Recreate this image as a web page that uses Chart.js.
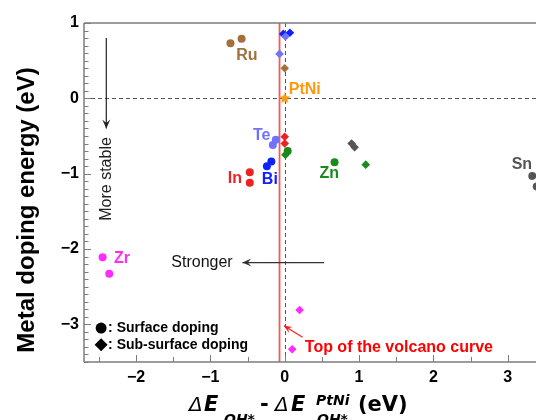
<!DOCTYPE html>
<html>
<head>
<meta charset="utf-8">
<script src="https://cdn.jsdelivr.net/npm/chart.js@4.4.1/dist/chart.umd.min.js"></script>
<style>
  html, body { margin: 0; padding: 0; background: #fff; }
  #wrap { width: 536px; height: 420px; overflow: hidden; }
</style>
</head>
<body>
<div id="wrap"><canvas id="chart" width="536" height="420"></canvas></div>
<script>
// values: [ΔE_OH* - ΔE_OH*(PtNi), metal doping energy]
const ruSurface    = [[-0.73, 0.73], [-0.58, 0.79]];
const ruSubsurface = [[0.00, 0.40]];
const teSurface    = [[-0.12, -0.55], [-0.16, -0.62]];
const teSubsurface = [[0.01, 0.82], [-0.07, 0.59]];
const biSurface    = [[-0.18, -0.84], [-0.24, -0.90]];
const biSubsurface = [[-0.02, 0.855], [0.07, 0.87]];
const inSurface    = [[-0.47, -0.98], [-0.47, -1.12]];
const inSubsurface = [[0.00, -0.51], [0.00, -0.60]];
const znSurface    = [[0.67, -0.85], [0.04, -0.70]];
const znSubsurface = [[1.09, -0.88], [0.01, -0.75]];
const snSurface    = [[3.33, -1.03], [3.39, -1.17]];
const snSubsurface = [[0.90, -0.60], [0.94, -0.65]];
const zrSurface    = [[-2.45, -2.11], [-2.36, -2.33]];
const zrSubsurface = [[0.20, -2.81], [0.10, -3.33]];
const ptNi         = [[0, 0]];

const elements = ['Ru', 'Te', 'Bi', 'In', 'Zn', 'Sn', 'Zr'];
const surfaceSets    = [ruSurface, teSurface, biSurface, inSurface, znSurface, snSurface, zrSurface];
const subsurfaceSets = [ruSubsurface, teSubsurface, biSubsurface, inSubsurface, znSubsurface, snSubsurface, zrSubsurface];

const xTicks = [-2, -1, 0, 1, 2, 3];
const yTicks = [-3, -2, -1, 0, 1];
const volcanoTop = -0.07;

const colors = { Ru: '#a3703c', Te: '#7272ff', Bi: '#0f22ff', In: '#ee2222', Zn: '#1a8a1a', Sn: '#555555', Zr: '#ff2bff', PtNi: '#ff9a10' };
const FONT = '"Liberation Sans", Arial, Helvetica, sans-serif';
const TFONT = '"DejaVu Sans", sans-serif';

// text labels beside each group (data units, centre of text)
const tags = [
    { t: 'Ru', x: -0.51, y: 0.57 },
    { t: 'PtNi', x: 0.27, y: 0.12 },
    { t: 'Te', x: -0.31, y: -0.50 },
    { t: 'In', x: -0.67, y: -1.07 },
    { t: 'Bi', x: -0.20, y: -1.08 },
    { t: 'Zn', x: 0.60, y: -1.00 },
    { t: 'Sn', x: 3.19, y: -0.88 },
    { t: 'Zr', x: -2.19, y: -2.13 }
];

function toPts(arr) { return arr.map(p => ({ x: p[0], y: p[1] })); }
function fmt(v) { return v < 0 ? '\u2212' + Math.abs(v) : String(v); }

function starImage(r, color) {
    const c = document.createElement('canvas');
    const s = Math.ceil(r * 2 + 2);
    c.width = c.height = s;
    const g = c.getContext('2d');
    g.fillStyle = color;
    g.beginPath();
    for (let i = 0; i < 10; i++) {
        const rad = i % 2 ? r * 0.45 : r;
        const ang = -Math.PI / 2 + i * Math.PI / 5;
        g.lineTo(s / 2 + rad * Math.cos(ang), s / 2 + rad * Math.sin(ang));
    }
    g.closePath();
    g.fill();
    return c;
}

const datasets = [];
elements.forEach((el, i) => {
    datasets.push({ label: el + ' sub', data: toPts(subsurfaceSets[i]), pointStyle: 'rectRot', pointRadius: 4.3,
        backgroundColor: colors[el], borderWidth: 0 });
    datasets.push({ label: el + ' surf', data: toPts(surfaceSets[i]), pointStyle: 'circle', pointRadius: 4,
        backgroundColor: colors[el], borderWidth: 0 });
});
datasets.push({ label: 'PtNi', data: toPts(ptNi), pointStyle: starImage(6, colors.PtNi), pointRadius: 6 });

function line(ctx, x1, y1, x2, y2) {
    ctx.beginPath(); ctx.moveTo(x1, y1); ctx.lineTo(x2, y2); ctx.stroke();
}
function arrow(ctx, x1, y1, x2, y2, len, wid) {
    line(ctx, x1, y1, x2, y2);
    const a = Math.atan2(y2 - y1, x2 - x1);
    ctx.save();
    ctx.translate(x2, y2); ctx.rotate(a);
    ctx.beginPath();
    ctx.moveTo(0, 0); ctx.lineTo(-len, -wid); ctx.lineTo(-len * 0.6, 0); ctx.lineTo(-len, wid);
    ctx.closePath(); ctx.fill();
    ctx.restore();
}

const decor = {
    id: 'decor',
    beforeDatasetsDraw(chart) {
        const { ctx, chartArea: a, scales: { x, y } } = chart;
        ctx.save();
        ctx.strokeStyle = '#555'; ctx.lineWidth = 1; ctx.setLineDash([4, 3]);
        const x0 = Math.round(x.getPixelForValue(0)) + 0.5, y0 = Math.round(y.getPixelForValue(0)) + 0.5;
        line(ctx, x0, a.top, x0, a.bottom);
        line(ctx, a.left, y0, a.right, y0);
        ctx.setLineDash([]);
        ctx.strokeStyle = 'rgba(240,50,50,0.8)'; ctx.lineWidth = 1.8;
        const xv = x.getPixelForValue(volcanoTop);
        line(ctx, xv, a.top, xv, a.bottom);

        // "More stable" arrow
        ctx.strokeStyle = '#222'; ctx.fillStyle = '#222'; ctx.lineWidth = 1.2;
        arrow(ctx, x.getPixelForValue(-2.4), y.getPixelForValue(0.80), x.getPixelForValue(-2.4), y.getPixelForValue(-0.40), 9, 4);
        ctx.save();
        ctx.translate(x.getPixelForValue(-2.4), y.getPixelForValue(-1.07));
        ctx.rotate(-Math.PI / 2);
        ctx.font = '16px ' + FONT; ctx.textAlign = 'center'; ctx.textBaseline = 'middle';
        ctx.fillText('More stable', 0, 0);
        ctx.restore();

        // "Stronger" arrow
        ctx.strokeStyle = '#333'; ctx.fillStyle = '#333';
        arrow(ctx, x.getPixelForValue(0.53), y.getPixelForValue(-2.18), x.getPixelForValue(-0.57), y.getPixelForValue(-2.18), 9, 4);
        ctx.fillStyle = '#111';
        ctx.font = '16px ' + FONT; ctx.textAlign = 'right'; ctx.textBaseline = 'middle';
        ctx.fillText('Stronger', x.getPixelForValue(-0.70), y.getPixelForValue(-2.18));

        // top of the volcano curve
        ctx.strokeStyle = '#ff1a1a'; ctx.fillStyle = '#ff1a1a'; ctx.lineWidth = 1.2;
        arrow(ctx, x.getPixelForValue(0.24), y.getPixelForValue(-3.17), x.getPixelForValue(-0.01), y.getPixelForValue(-3.02), 8, 3.5);
        ctx.fillStyle = '#ff0000';
        ctx.font = 'bold 16px ' + FONT; ctx.textAlign = 'left'; ctx.textBaseline = 'middle';
        ctx.fillText('Top of the volcano curve', x.getPixelForValue(0.27), y.getPixelForValue(-3.31));
        ctx.restore();
    },
    afterDraw(chart) {
        const { ctx, chartArea: a, scales: { x, y } } = chart;
        ctx.save();
        // frame
        ctx.strokeStyle = '#7d7d7d'; ctx.lineWidth = 1.5;
        line(ctx, a.left, a.top, a.right, a.top);
        line(ctx, a.left, a.top, a.left, a.bottom);
        line(ctx, a.left, a.bottom, a.right, a.bottom);
        // inward ticks
        ctx.lineWidth = 1;
        for (let v = -3.5; v <= 1.001; v += 0.1) {
            const py = Math.round(y.getPixelForValue(v)) + 0.5;
            const major = Math.abs(v - Math.round(v)) < 0.01;
            line(ctx, a.left, py, a.left + (major ? 7 : 4.5), py);
        }
        for (let v = -2.5; v <= 3.3; v += 0.5) {
            const px = Math.round(x.getPixelForValue(v)) + 0.5;
            const major = Math.abs(v - Math.round(v)) < 0.01;
            line(ctx, px, a.bottom, px, a.bottom - (major ? 7 : 5));
        }

        // group labels
        ctx.font = 'bold 16px ' + FONT; ctx.textBaseline = 'middle'; ctx.textAlign = 'center';
        tags.forEach(tg => {
            ctx.fillStyle = colors[tg.t];
            ctx.fillText(tg.t, x.getPixelForValue(tg.x), y.getPixelForValue(tg.y));
        });

        // marker legend
        ctx.fillStyle = '#000';
        const lx = x.getPixelForValue(-2.47);
        const ly1 = y.getPixelForValue(-3.05), ly2 = y.getPixelForValue(-3.27);
        ctx.beginPath(); ctx.arc(lx, ly1, 5.5, 0, Math.PI * 2); ctx.fill();
        ctx.beginPath(); ctx.moveTo(lx, ly2 - 6.5); ctx.lineTo(lx + 6.5, ly2); ctx.lineTo(lx, ly2 + 6.5); ctx.lineTo(lx - 6.5, ly2); ctx.closePath(); ctx.fill();
        ctx.font = 'bold 14px ' + FONT; ctx.textAlign = 'left';
        ctx.fillText(': Surface doping', lx + 7, ly1);
        ctx.fillText(': Sub-surface doping', lx + 7, ly2);

        // y title
        ctx.save();
        ctx.translate(27, 210);
        ctx.rotate(-Math.PI / 2);
        ctx.font = 'bold 24px ' + FONT; ctx.textAlign = 'center'; ctx.textBaseline = 'middle';
        ctx.fillText('Metal doping energy (eV)', 0, 0);
        ctx.restore();

        // x title: ΔE_OH* - ΔE^PtNi_OH* (eV)
        ctx.fillStyle = '#000';
        ctx.textAlign = 'left'; ctx.textBaseline = 'alphabetic';
        const base = 411;
        const big = 'italic bold 21px ' + TFONT, small = 'italic bold 14px ' + TFONT;
        ctx.font = 'italic 20px ' + TFONT; ctx.fillText('\u0394', 189, base);
        ctx.font = big; ctx.fillText('E', 204, base);
        ctx.font = small; ctx.fillText('OH*', 224, base + 13);
        ctx.font = 'bold 21px ' + TFONT; ctx.fillText('-', 260, base);
        ctx.font = 'italic 20px ' + TFONT; ctx.fillText('\u0394', 275, base);
        ctx.font = big; ctx.fillText('E', 291, base);
        ctx.font = small; ctx.fillText('PtNi', 316, base - 6); ctx.fillText('OH*', 317, base + 13);
        ctx.font = 'bold 21px ' + TFONT; ctx.fillText('(eV)', 358, base);
        ctx.restore();
    }
};

new Chart(document.getElementById('chart'), {
    type: 'scatter',
    data: { datasets },
    options: {
        responsive: false,
        animation: false,
        layout: { autoPadding: false, padding: { top: 23, right: 0, left: 0, bottom: 0 } },
        plugins: { legend: { display: false }, tooltip: { enabled: false } },
        elements: { point: { hoverRadius: 4 } },
        scales: {
            x: {
                type: 'linear', min: -2.7, max: 3.38,
                grid: { display: false, drawTicks: false }, border: { display: false },
                afterBuildTicks: s => { s.ticks = xTicks.map(v => ({ value: v })); },
                afterFit: s => { s.height = 58; },
                ticks: { font: { family: FONT, weight: 'bold', size: 16 }, color: '#000', padding: 6, maxRotation: 0, autoSkip: false, callback: fmt }
            },
            y: {
                type: 'linear', min: -3.5, max: 1,
                grid: { display: false, drawTicks: false }, border: { display: false },
                afterBuildTicks: s => { s.ticks = yTicks.map(v => ({ value: v })); },
                afterFit: s => { s.width = 84; },
                ticks: { font: { family: FONT, weight: 'bold', size: 16 }, color: '#000', padding: 5, autoSkip: false, callback: fmt }
            }
        }
    },
    plugins: [decor]
});
</script>
</body>
</html>
